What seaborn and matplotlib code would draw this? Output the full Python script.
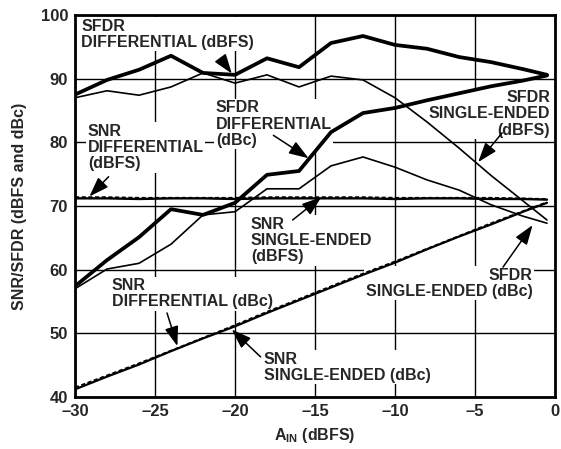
import numpy as np
import pandas as pd
import matplotlib
matplotlib.use("Agg")
import matplotlib.pyplot as plt
import seaborn as sns

# input level (dBFS)
a_in = [-30, -28, -26, -24, -22, -20, -18, -16, -14, -12, -10, -8, -6, -4, -2, -0.5]

# SFDR curves
sfdr_diff_dbfs = [87.5, 89.8, 91.4, 93.6, 90.9, 90.6, 93.2, 91.8, 95.6, 96.7, 95.3, 94.7, 93.4, 92.6, 91.5, 90.6]
sfdr_se_dbfs = [87.0, 88.1, 87.4, 88.7, 90.9, 89.3, 90.6, 88.7, 90.4, 89.8, 87.0, 83.2, 79.1, 74.8, 70.8, 67.8]
sfdr_diff_dbc = [57.4, 61.5, 65.1, 69.5, 68.6, 70.5, 74.9, 75.5, 81.6, 84.6, 85.4, 86.6, 87.7, 88.8, 89.7, 90.5]
sfdr_se_dbc = [57.0, 60.1, 61.0, 64.0, 68.6, 69.1, 72.7, 72.7, 76.3, 77.7, 76.1, 74.1, 72.5, 70.2, 68.4, 67.3]

# SNR curves
snr_diff_dbfs = [71.2, 71.2, 71.1, 71.2, 71.2, 71.1, 71.2, 71.2, 71.2, 71.2, 71.1, 71.2, 71.2, 71.1, 71.1, 71.0]
snr_se_dbfs = [71.4, 71.4, 71.3, 71.3, 71.3, 71.3, 71.4, 71.4, 71.4, 71.4, 71.3, 71.3, 71.3, 71.3, 71.2, 71.1]
snr_diff_dbc = [41.2, 43.2, 45.1, 47.2, 49.2, 51.1, 53.2, 55.2, 57.2, 59.2, 61.1, 63.2, 65.2, 67.1, 69.1, 70.5]
snr_se_dbc = [41.5, 43.4, 45.3, 47.3, 49.3, 51.3, 53.4, 55.4, 57.4, 59.4, 61.3, 63.3, 65.3, 67.3, 69.2, 70.6]

x_ticks = [-30, -25, -20, -15, -10, -5, 0]
y_ticks = [40, 50, 60, 70, 80, 90, 100]

sns.set_theme(style="white")
plt.rcParams['font.family'] = ['Liberation Sans', 'DejaVu Sans']
plt.rcParams['font.weight'] = 'bold'
plt.rcParams['mathtext.fontset'] = 'custom'
plt.rcParams['mathtext.rm'] = 'Liberation Sans:bold'
plt.rcParams['mathtext.bf'] = 'Liberation Sans:bold'

fig = plt.figure(figsize=(5.61, 4.49), dpi=100)
ax = fig.add_axes([0.1337, 0.1158, 0.8556, 0.8508])

def draw(y, lw, dashes=None):
    sns.lineplot(x=a_in, y=y, ax=ax, color="black", linewidth=lw, zorder=4)
    if dashes is not None:
        ax.lines[-1].set_dashes(dashes)

draw(sfdr_diff_dbfs, 2.7)
draw(sfdr_se_dbfs, 1.2)
draw(sfdr_diff_dbc, 2.7)
draw(sfdr_se_dbc, 1.2)
draw(snr_diff_dbfs, 1.7)
draw(snr_se_dbfs, 1.2, dashes=(2.5, 1.5))
draw(snr_diff_dbc, 1.6)
draw(snr_se_dbc, 1.2, dashes=(2.5, 1.5))

ax.set_xlim(-30, 0)
ax.set_ylim(40, 100)
ax.set_xticks(x_ticks)
ax.set_yticks(y_ticks)
ax.set_xticklabels([f"{t}".replace("-", "\u2013") for t in x_ticks])
ax.grid(True, color="black", linewidth=1.0, zorder=1)
ax.set_axisbelow(True)
ax.tick_params(length=0, labelsize=12, pad=5)
for lab in ax.get_xticklabels() + ax.get_yticklabels():
    lab.set_fontweight("bold")
for s in ax.spines.values():
    s.set_color("black")
    s.set_linewidth(2.0)

ax.set_xlabel(r"A$_{\mathbf{IN}}$ (dBFS)", fontsize=11.5, fontweight="bold", labelpad=5)
ax.set_ylabel("SNR/SFDR (dBFS and dBc)", fontsize=11.5, fontweight="bold", labelpad=10)

box = dict(facecolor="white", edgecolor="none", pad=1.0)
arrow = dict(arrowstyle="-|>,head_length=1.0,head_width=0.35", color="black", lw=1.1,
             shrinkA=0, shrinkB=0)
fs = 11.5

def label(text, xy, ha="left"):
    ax.text(xy[0], xy[1], text, ha=ha, va="top", multialignment=ha, fontsize=fs,
            fontweight="bold", bbox=box, zorder=3, linespacing=1.1)

def arr(tail, tip):
    ax.annotate("", xy=tip, xytext=tail, arrowprops=arrow, zorder=5)

label("SFDR\nDIFFERENTIAL (dBFS)", (-29.6, 99.4))
arr((-20.9, 93.2), (-20.2, 90.8))

label("SFDR\nDIFFERENTIAL\n(dBc)", (-21.2, 86.6))
arr((-17.6, 81.1), (-15.4, 77.5))

label("SNR\nDIFFERENTIAL\n(dBFS)", (-29.2, 82.9))
arr((-27.9, 74.6), (-29.1, 71.5))

label("SNR\nSINGLE-ENDED\n(dBFS)", (-19.0, 68.3))
arr((-16.4, 67.8), (-14.6, 71.4))

label("SFDR\nSINGLE-ENDED\n(dBFS)", (-0.3, 88.2), ha="right")
arr((-3.3, 81.5), (-4.8, 76.9))

label("SNR\nDIFFERENTIAL (dBc)", (-27.7, 58.7))
arr((-24.25, 53.2), (-23.6, 48.0))

label("SNR\nSINGLE-ENDED (dBc)", (-18.2, 47.1))
arr((-18.4, 46.3), (-20.2, 50.6))

label("SFDR\nSINGLE-ENDED (dBc)", (-1.4, 60.3), ha="right")
arr((-3.25, 60.4), (-1.4, 67.0))

fig.savefig("out.png", dpi=100)
